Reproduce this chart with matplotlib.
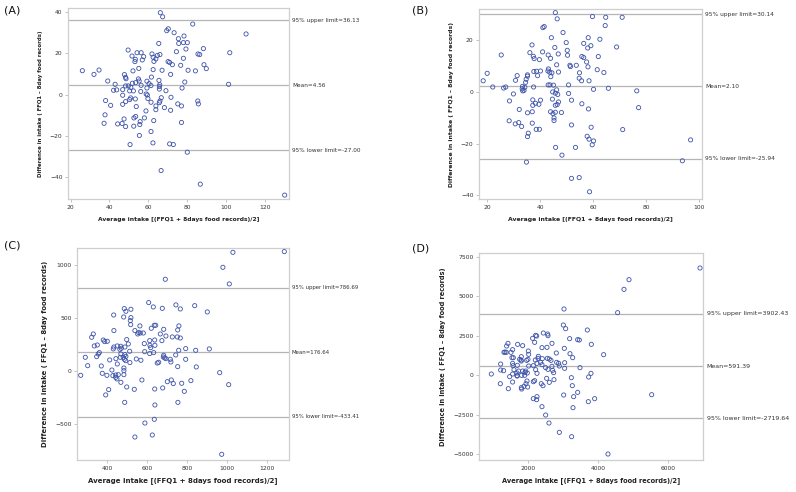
import matplotlib
matplotlib.use("Agg")
import matplotlib.pyplot as plt
import numpy as np

# ---------------- Panel A ----------------
a_avg = [66.2, 67.4, 82.9, 110.4, 70.3, 69.5, 73.3, 78.4, 75.5, 65.4, 75.7, 78.1, 80.1, 88.4, 79.4,
         49.6, 74.5, 102.0, 54.2, 56.3, 61.9, 66.0, 64.7, 85.6, 86.5, 51.6, 57.6, 62.5, 78.1, 63.9,
         53.3, 56.9, 53.1, 62.9, 70.2, 71.0, 72.4, 76.7, 88.7, 89.9, 26.0, 34.6, 32.0, 55.1, 52.1,
         62.5, 67.1, 80.5, 84.3, 71.5, 47.7, 48.3, 48.5, 61.6, 39.1, 54.9, 55.3, 59.3, 78.8, 65.5,
         42.9, 51.8, 53.5, 60.4, 101.4, 65.9, 56.3, 61.4, 65.7, 49.7, 51.0, 48.3, 77.4, 59.3, 65.7,
         42.1, 43.7, 46.8, 50.4, 52.3, 56.1, 69.1, 58.9, 59.5, 46.8, 71.7, 66.7, 50.9, 53.3, 59.8,
         38.0, 50.4, 66.0, 85.5, 65.7, 61.4, 48.3, 85.8, 75.2, 46.8, 40.6, 77.1, 63.9, 53.8, 68.3,
         63.9, 58.8, 71.5, 37.7, 53.5, 52.6, 58.0, 47.5, 62.8, 55.8, 77.1, 37.2, 44.2, 46.5, 55.6,
         48.3, 52.5, 55.4, 61.4, 50.6, 62.4, 71.0, 72.9, 80.1, 66.6, 86.8, 130.3]
a_diff = [39.7, 37.7, 34.2, 29.4, 31.9, 31.0, 30.0, 28.4, 27.1, 24.8, 24.8, 25.2, 25.2, 22.3, 22.1,
          21.6, 20.8, 20.3, 20.3, 20.3, 19.7, 19.4, 19.0, 19.7, 19.4, 18.7, 18.4, 18.1, 17.6, 17.3,
          17.1, 16.8, 16.0, 16.1, 16.0, 15.6, 14.5, 14.2, 14.5, 12.6, 11.6, 11.9, 9.8, 12.7, 11.5,
          12.1, 11.8, 11.8, 11.5, 9.8, 9.7, 8.4, 7.7, 8.5, 6.6, 7.6, 6.6, 6.5, 6.1, 6.9,
          5.0, 5.5, 5.8, 5.3, 5.0, 4.8, 4.5, 4.4, 3.9, 4.2, 3.5, 4.2, 3.2, 3.2, 2.7,
          2.1, 2.3, 2.4, 1.8, 1.8, 1.5, 1.9, 0.3, -0.2, -0.3, -1.3, -1.5, -1.6, -2.1, -1.9,
          -2.9, -2.4, -3.1, -3.1, -3.9, -3.7, -3.4, -4.5, -4.5, -4.7, -5.2, -5.5, -5.5, -5.8, -6.3,
          -7.3, -7.9, -7.6, -9.8, -10.6, -11.3, -11.3, -11.8, -12.6, -13.1, -13.5, -13.9, -14.2, -14.0, -14.5,
          -15.5, -15.3, -19.8, -17.9, -24.2, -23.4, -23.9, -24.2, -27.9, -36.8, -43.4, -48.7]
a_mean, a_upper, a_lower = 4.56, 36.13, -27.00
a_mean_lbl, a_upper_lbl, a_lower_lbl = "Mean=4.56", "95% upper limit=36.13", "95% lower limit=-27.00"
a_xticks = [20, 40, 60, 80, 100, 120]
a_yticks = [-40, -20, 0, 20, 40]

# ---------------- Panel B ----------------
b_avg = [45.7, 46.4, 59.7, 64.7, 70.9, 64.5, 41.5, 41.0, 48.6, 44.2, 58.1, 62.5, 49.8, 56.4, 36.9,
         59.1, 68.8, 45.5, 57.9, 50.2, 36.1, 40.9, 25.3, 46.8, 50.3, 43.0, 37.4, 55.7, 61.9, 37.7,
         43.9, 39.7, 56.4, 51.2, 46.2, 51.4, 53.6, 58.0, 57.5, 61.5, 64.0, 43.1, 42.9, 43.6, 44.4,
         46.9, 37.6, 38.6, 40.1, 20.0, 54.8, 31.3, 35.2, 35.2, 44.0, 39.0, 54.7, 55.6, 58.4, 18.5,
         30.7, 34.7, 34.5, 43.0, 43.7, 45.0, 50.7, 22.1, 27.0, 26.2, 33.3, 37.5, 34.2, 33.2, 33.9,
         33.4, 60.1, 65.7, 76.4, 46.2, 44.7, 45.7, 46.6, 29.9, 50.7, 44.6, 37.2, 40.1, 51.8, 28.4,
         46.9, 38.2, 45.7, 55.7, 37.2, 39.5, 46.4, 77.1, 58.2, 32.1, 37.0, 35.2, 43.9, 45.7, 44.8,
         48.0, 45.2, 45.2, 28.3, 30.6, 31.9, 37.0, 33.0, 51.8, 59.2, 38.5, 39.7, 71.1, 35.5, 35.2,
         57.7, 58.4, 60.1, 96.7, 59.6, 45.8, 53.3, 48.2, 34.8, 93.6, 51.8, 54.7, 58.6]
b_diff = [30.7, 28.3, 29.2, 28.9, 28.9, 25.7, 25.3, 24.9, 23.0, 21.0, 21.0, 20.4, 19.1, 18.8, 18.2,
          17.9, 17.4, 17.2, 17.0, 16.1, 15.2, 15.5, 14.3, 14.7, 14.2, 14.3, 13.8, 13.7, 13.7, 12.9,
          13.0, 12.5, 13.3, 10.3, 10.5, 9.8, 10.3, 9.7, 11.6, 8.6, 7.5, 8.9, 8.1, 7.6, 7.4,
          7.7, 7.9, 8.0, 8.1, 7.2, 7.4, 6.3, 6.6, 6.1, 5.9, 6.3, 5.3, 4.3, 4.3, 4.3,
          4.5, 4.9, 3.7, 2.7, 2.7, 2.6, 2.7, 1.9, 1.9, 1.5, 2.1, 1.9, 1.8, 1.2, 0.6,
          0.4, 1.0, 1.4, 0.4, 0.8, 0.0, -0.5, -1.0, -0.8, -0.6, -2.8, -3.1, -3.2, -3.2, -3.5,
          -3.9, -4.4, -5.2, -4.6, -5.2, -4.8, -4.9, -6.1, -6.6, -6.8, -7.7, -8.1, -7.7, -7.9, -8.4,
          -8.0, -10.1, -11.1, -11.2, -12.4, -11.9, -12.1, -13.4, -12.8, -13.7, -14.5, -14.5, -14.6, -16.0, -17.3,
          -17.2, -18.3, -19.0, -18.6, -20.5, -21.5, -21.5, -24.5, -27.2, -26.7, -33.5, -33.2, -38.7]
b_mean, b_upper, b_lower = 2.10, 30.14, -25.94
b_mean_lbl, b_upper_lbl, b_lower_lbl = "Mean=2.10", "95% upper limit=30.14", "95% lower limit=-25.94"
b_xticks = [20, 40, 60, 80, 100]
b_yticks = [-40, -20, 0, 20]

# ---------------- Panel C ----------------
c_avg = [1285, 1028, 978, 690, 1010, 607, 630, 743, 837, 765, 675, 485, 518, 493, 432,
         900, 482, 518, 515, 517, 563, 635, 642, 758, 752, 682, 433, 538, 620, 557,
         565, 580, 552, 665, 330, 322, 380, 497, 693, 725, 750, 765, 612, 637, 387,
         400, 673, 505, 585, 638, 350, 335, 613, 450, 433, 467, 488, 617, 430, 463,
         470, 792, 910, 757, 842, 512, 632, 587, 360, 355, 468, 612, 682, 488, 742,
         347, 493, 465, 480, 680, 687, 290, 693, 715, 443, 485, 545, 568, 412, 492,
         792, 718, 657, 650, 513, 450, 302, 752, 845, 423, 483, 483, 370, 375, 962,
         267, 398, 428, 442, 442, 448, 483, 455, 573, 700, 720, 772, 818, 730, 468,
         1007, 497, 407, 535, 637, 677, 785, 392, 487, 753, 638, 635, 588, 538, 625, 972]
c_diff = [1126, 1119, 978, 865, 821, 645, 604, 623, 616, 585, 591, 588, 582, 563, 528,
          557, 509, 503, 475, 437, 425, 431, 431, 425, 387, 393, 381, 381, 403, 362,
          358, 358, 349, 349, 349, 318, 292, 296, 330, 321, 321, 311, 286, 292, 277,
          280, 286, 255, 258, 242, 245, 236, 242, 236, 226, 233, 226, 220, 208, 204,
          214, 211, 208, 195, 195, 186, 173, 182, 173, 160, 160, 164, 148, 154, 151,
          135, 138, 129, 129, 132, 123, 129, 116, 110, 116, 110, 113, 101, 104, 97,
          110, 85, 82, 75, 79, 66, 50, 41, 38, 9, 28, 3, 47, -22, -16,
          -41, -41, -44, -38, -60, -75, -35, -35, -85, -101, -85, -116, -91, -119, -107,
          -129, -151, -176, -173, -170, -160, -192, -226, -296, -296, -321, -456, -491, -623, -604, -786]
c_mean, c_upper, c_lower = 176.64, 786.69, -433.41
c_mean_lbl, c_upper_lbl, c_lower_lbl = "Mean=176.64", "95% upper limit=786.69", "95% lower limit=-433.41"
c_xticks = [400, 600, 800, 1000, 1200]
c_yticks = [-500, 0, 500, 1000]

# ---------------- Panel D ----------------
d_avg = [6905, 4876, 4733, 4552, 3019, 3000, 3067, 3686, 2429, 2210, 2238, 2552, 2562, 2124, 3181,
         3410, 3457, 2181, 2676, 1419, 1695, 3800, 1381, 1838, 2390, 2533, 3029, 1552, 2000, 1333,
         1305, 1371, 1505, 2010, 2800, 3190, 4152, 2286, 1533, 1571, 1800, 3267, 2276, 2400, 2543,
         2600, 1752, 1790, 1990, 2200, 2648, 1800, 1952, 1210, 2248, 2352, 2810, 2867, 3038, 1552,
         1686, 1562, 2010, 2390, 2676, 2886, 2143, 2495, 3476, 1210, 1590, 2210, 2562, 2695, 3038,
         1295, 1724, 1838, 1924, 1905, 1676, 2724, 3790, 943, 1552, 1971, 2248, 1676, 1686, 1810,
         1895, 3724, 1467, 3229, 2524, 2733, 1962, 2143, 2181, 1552, 2600, 1200, 1933, 2371, 2419,
         3257, 1876, 1981, 1800, 1429, 1810, 3410, 5524, 3010, 3295, 2248, 2143, 2238, 3895, 3714,
         2390, 3276, 2495, 2590, 2886, 3238, 4276]
d_diff = [6799, 6060, 5448, 3970, 4202, 3188, 2956, 2872, 2682, 2534, 2492, 2618, 2513, 2344, 2323,
          2260, 2238, 2090, 2027, 2027, 1964, 1964, 1858, 1879, 1753, 1774, 1710, 1626, 1541, 1478,
          1457, 1457, 1457, 1330, 1415, 1372, 1309, 1204, 1119, 1119, 1182, 1119, 1077, 1056, 1077,
          1034, 1013, 971, 1013, 971, 950, 908, 950, 718, 760, 823, 823, 760, 802, 760,
          633, 612, 591, 676, 570, 591, 612, 486, 486, 338, 359, 359, 380, 317, 443,
          296, 274, 274, 274, 190, 148, 169, 127, 84, 84, 148, 127, -21, -42, 0,
          0, -106, -84, -148, -190, -274, -359, -401, -338, -422, -443, -528, -528, -528, -655,
          -655, -697, -739, -781, -845, -866, -1077, -1225, -1246, -1351, -1351, -1478, -1541, -1478, -1668,
          -1985, -2048, -2513, -3020, -3611, -3885, -4983]
d_mean, d_upper, d_lower = 591.39, 3902.43, -2719.64
d_mean_lbl, d_upper_lbl, d_lower_lbl = "Mean=591.39", "95% upper limit=3902.43", "95% lower limit=-2719.64"
d_xticks = [2000, 4000, 6000]
d_yticks = [-5000, -2500, 0, 2500, 5000, 7500]

xlabel = "Average intake [(FFQ1 + 8days food records)/2]"
ylabel = "Difference in intake ( FFQ1 \u2013 8day food records)"
panel_labels = ["(A)", "(B)", "(C)", "(D)"]

fig = plt.figure(figsize=(7.96, 4.92), dpi=100)

panels = [
    dict(rect=[0.0854, 0.5955, 0.2776, 0.3875], xlim=(18.6, 132.5), ylim=(-50.6, 41.8),
         avg=a_avg, diff=a_diff, lines=(a_upper, a_mean, a_lower), lbls=(a_upper_lbl, a_mean_lbl, a_lower_lbl),
         xt=a_xticks, yt=a_yticks, lab=(0.005, 0.988), xfs=4.3, yfs=3.9, rfs=4.15),
    dict(rect=[0.6017, 0.5955, 0.2802, 0.3856], xlim=(16.9, 101.0), ylim=(-41.5, 32.0),
         avg=b_avg, diff=b_diff, lines=(b_upper, b_mean, b_lower), lbls=(b_upper_lbl, b_mean_lbl, b_lower_lbl),
         xt=b_xticks, yt=b_yticks, lab=(0.518, 0.988), xfs=4.45, yfs=4.45, rfs=4.25),
    dict(rect=[0.0971, 0.065, 0.2656, 0.4303], xlim=(250, 1307), ylim=(-840, 1157),
         avg=c_avg, diff=c_diff, lines=(c_upper, c_mean, c_lower), lbls=(c_upper_lbl, c_mean_lbl, c_lower_lbl),
         xt=c_xticks, yt=c_yticks, lab=(0.005, 0.512), xfs=5.0, yfs=4.95, rfs=3.85),
    dict(rect=[0.6017, 0.065, 0.2819, 0.4201], xlim=(590, 7000), ylim=(-5363, 7728),
         avg=d_avg, diff=d_diff, lines=(d_upper, d_mean, d_lower), lbls=(d_upper_lbl, d_mean_lbl, d_lower_lbl),
         xt=d_xticks, yt=d_yticks, lab=(0.518, 0.505), xfs=4.8, yfs=4.8, rfs=4.5),
]

frame_c = "#cfcfcf"
line_c = "#b5b5b5"
pt_c = "#3c52a8"
txt_c = "#333333"

for i, p in enumerate(panels):
    ax = fig.add_axes(p["rect"])
    ax.scatter(p["avg"], p["diff"], s=9, facecolors="none", edgecolors=pt_c, linewidths=0.6, zorder=3)
    for val, lbl in zip(p["lines"], p["lbls"]):
        ax.axhline(val, color=line_c, lw=0.9, zorder=2)
        ax.text(1.015, val, lbl, transform=ax.get_yaxis_transform(), va="center", ha="left",
                fontsize=p["rfs"], color=txt_c, clip_on=False)
    ax.set_xlim(*p["xlim"])
    ax.set_ylim(*p["ylim"])
    ax.set_xticks(p["xt"])
    ax.set_yticks(p["yt"])
    ax.tick_params(labelsize=4.3, colors="#aaaaaa", labelcolor=txt_c, length=2, width=0.5, pad=2)
    for s in ax.spines.values():
        s.set_color(frame_c)
        s.set_linewidth(0.9)
    ax.set_xlabel(xlabel, fontsize=p["xfs"], fontweight="bold", color="#222222", labelpad=5)
    ax.set_ylabel(ylabel, fontsize=p["yfs"], fontweight="bold", color="#222222", labelpad=5)
    fig.text(p["lab"][0], p["lab"][1], panel_labels[i], fontsize=8, ha="left", va="top", color="#111111")

fig.savefig("out.png", dpi=100)
